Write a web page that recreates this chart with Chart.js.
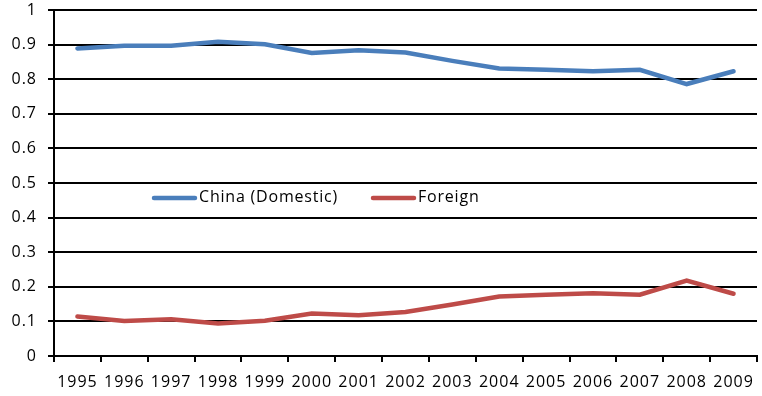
<!DOCTYPE html>
<html>
<head>
<meta charset="utf-8">
<script src="https://cdn.jsdelivr.net/npm/chart.js@4/dist/chart.umd.min.js"></script>
<style>
html,body{margin:0;padding:0;background:#fff;}
#wrap{width:762px;height:396px;}
</style>
</head>
<body>
<div id="wrap"><canvas id="c" width="762" height="396"></canvas></div>
<script>
const years = ["1995","1996","1997","1998","1999","2000","2001","2002","2003","2004","2005","2006","2007","2008","2009"];
const chinaDomestic = [0.889,0.897,0.897,0.908,0.901,0.876,0.884,0.877,0.853,0.831,0.827,0.823,0.827,0.786,0.823];
const foreign = [0.114,0.101,0.106,0.094,0.102,0.123,0.118,0.127,0.149,0.172,0.177,0.181,0.177,0.218,0.180];
const seriesLabels = ["China (Domestic)","Foreign"];
const yTicks = [0,0.1,0.2,0.3,0.4,0.5,0.6,0.7,0.8,0.9,1];

const FONT = "'Open Sans'";
const colors = ["#4a7ebb","#be4b48"];

const spacingPlugin = {
  id: 'spacing',
  beforeDraw(chart){ chart.ctx.letterSpacing = "1px"; },
  beforeDatasetsDraw(chart){ chart.ctx.letterSpacing = "0px"; }
};

const legendPlugin = {
  id: 'inLegend',
  afterDatasetsDraw(chart){
    const ctx = chart.ctx;
    const y = chart.scales.y.getPixelForValue(0.457);
    const items = [{x:152},{x:371}];
    ctx.save();
    ctx.letterSpacing = "0.8px";
    ctx.font = "16px " + FONT;
    ctx.textBaseline = "middle";
    chart.data.datasets.forEach((ds,i)=>{
      const x = items[i].x;
      ctx.strokeStyle = ds.borderColor;
      ctx.lineWidth = 4.5;
      ctx.lineCap = "round";
      ctx.beginPath(); ctx.moveTo(x+2,y); ctx.lineTo(x+43,y); ctx.stroke();
      ctx.fillStyle = "#000";
      ctx.fillText(ds.label, x+47, y);
    });
    ctx.restore();
  }
};

new Chart(document.getElementById('c'), {
  type: 'line',
  data: {
    labels: years,
    datasets: [
      {label: seriesLabels[0], data: chinaDomestic, borderColor: colors[0], backgroundColor: colors[0], borderWidth: 4.5, pointRadius: 0, tension: 0, borderCapStyle:'round'},
      {label: seriesLabels[1], data: foreign, borderColor: colors[1], backgroundColor: colors[1], borderWidth: 4.5, pointRadius: 0, tension: 0, borderCapStyle:'round'}
    ]
  },
  options: {
    responsive: false,
    animation: false,
    layout: {padding: {top: 10, right: 5, left: 0, bottom: 0}},
    plugins: {legend: {display: false}, tooltip: {enabled: false}},
    scales: {
      x: {
        offset: true,
        grid: {offset: true, display: true, drawOnChartArea: false, color: "#000", lineWidth: 2, tickLength: 6, tickWidth: 2},
        border: {display: true, color: "#000", width: 2},
        ticks: {color: "#000", font: {family: FONT, size: 16}, maxRotation: 0, autoSkip: false, padding: 11},
        afterFit(s){ s.height = 40; s.paddingLeft = 0; s.paddingRight = 0; }
      },
      y: {
        min: 0, max: 1,
        afterBuildTicks(s){ s.ticks = yTicks.map(v=>({value:v})); },
        grid: {color: "#000", lineWidth: 2, tickLength: 6, drawTicks: true},
        border: {display: true, color: "#000", width: 2},
        ticks: {color: "#000", font: {family: FONT, size: 16}, padding: 11, callback: v => String(Math.round(v*10)/10)},
        afterFit(s){ s.width = 54; s.paddingTop = 0; s.paddingBottom = 0; }
      }
    }
  },
  plugins: [spacingPlugin, legendPlugin]
});
</script>
</body>
</html>
